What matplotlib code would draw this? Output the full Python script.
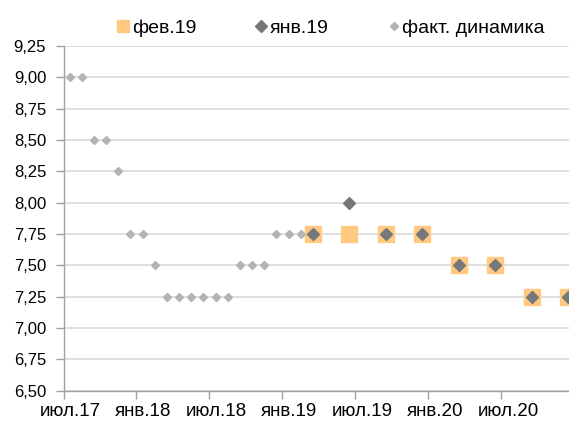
import matplotlib
matplotlib.use("Agg")
import matplotlib.pyplot as plt
import matplotlib.transforms as mtransforms
import pandas as pd

plt.rcParams['font.family'] = ['Liberation Sans', 'DejaVu Sans']

# Data
fact_months = ['2017-07', '2017-08', '2017-09', '2017-10', '2017-11', '2017-12',
               '2018-01', '2018-02', '2018-03', '2018-04', '2018-05', '2018-06',
               '2018-07', '2018-08', '2018-09', '2018-10', '2018-11', '2018-12',
               '2019-01', '2019-02']
fact_values = [9.00, 9.00, 8.50, 8.50, 8.25, 7.75, 7.75, 7.50, 7.25, 7.25,
               7.25, 7.25, 7.25, 7.25, 7.50, 7.50, 7.50, 7.75, 7.75, 7.75]

fc_months = ['2019-03', '2019-06', '2019-09', '2019-12',
             '2020-03', '2020-06', '2020-09', '2020-12']
feb19_values = [7.75, 7.75, 7.75, 7.75, 7.50, 7.50, 7.25, 7.25]
jan19_values = [7.75, 8.00, 7.75, 7.75, 7.50, 7.50, 7.25, 7.25]

tick_labels = ['июл.17', 'янв.18', 'июл.18', 'янв.19', 'июл.19', 'янв.20', 'июл.20']
y_ticks = [6.50, 6.75, 7.00, 7.25, 7.50, 7.75, 8.00, 8.25, 8.50, 8.75, 9.00, 9.25]

start = pd.Period('2017-07', freq='M')
def mpos(ms):
    return [(pd.Period(m, freq='M') - start).n + 0.5 for m in ms]

fig = plt.figure(figsize=(5.69, 4.26), dpi=100)
ax = fig.add_axes([63.5 / 569, 35.3 / 426, 1 - 63.5 / 569, (390.7 - 46) / 426])

ax.plot(mpos(fc_months), feb19_values, linestyle='none', marker='s', markersize=11,
        color='#FFC982', label='фев.19', zorder=3)
ax.plot(mpos(fc_months), jan19_values, linestyle='none', marker='D', markersize=6.2,
        color='#76777A', label='янв.19', zorder=4)
ax.plot(mpos(fact_months), fact_values, linestyle='none', marker='D', markersize=4.0,
        color='#B3B3B3', label='факт. динамика', zorder=3)

ax.set_ylim(6.5, 9.25)
ax.set_xlim(0, 41.55)
ax.set_yticks(y_ticks)
ax.set_yticklabels([f"{v:.2f}".replace('.', ',') for v in y_ticks])
ax.set_xticks(list(range(0, 37, 6)))
ax.set_xticklabels(tick_labels)

ax.grid(axis='y', color='#D9D9D9', linewidth=1.2, zorder=0)
ax.set_axisbelow(True)
for s in ['top', 'right']:
    ax.spines[s].set_visible(False)
for s in ['left', 'bottom']:
    ax.spines[s].set_color('#A0A0A0')
    ax.spines[s].set_linewidth(1.0)
ax.tick_params(axis='both', colors='#A0A0A0', labelcolor='black',
               length=5.5, width=1.0)
ax.tick_params(axis='y', pad=7, labelsize=12)
ax.tick_params(axis='x', pad=3.5, labelsize=13.5)

offset = mtransforms.ScaledTranslation(6.5 / 100, 0, fig.dpi_scale_trans)
for lab in ax.get_xticklabels():
    lab.set_transform(lab.get_transform() + offset)

leg = fig.legend(loc='center', bbox_to_anchor=(331 / 569, 1 - 28 / 426), ncol=3,
                 frameon=False, fontsize=14.0, handletextpad=0.13, columnspacing=3.0,
                 handlelength=0.65, borderaxespad=0, borderpad=0)
for h, ms in zip(leg.legend_handles, [8.6, 6.0, 4.0]):
    h.set_markersize(ms)

fig.savefig('out.png', dpi=100)
